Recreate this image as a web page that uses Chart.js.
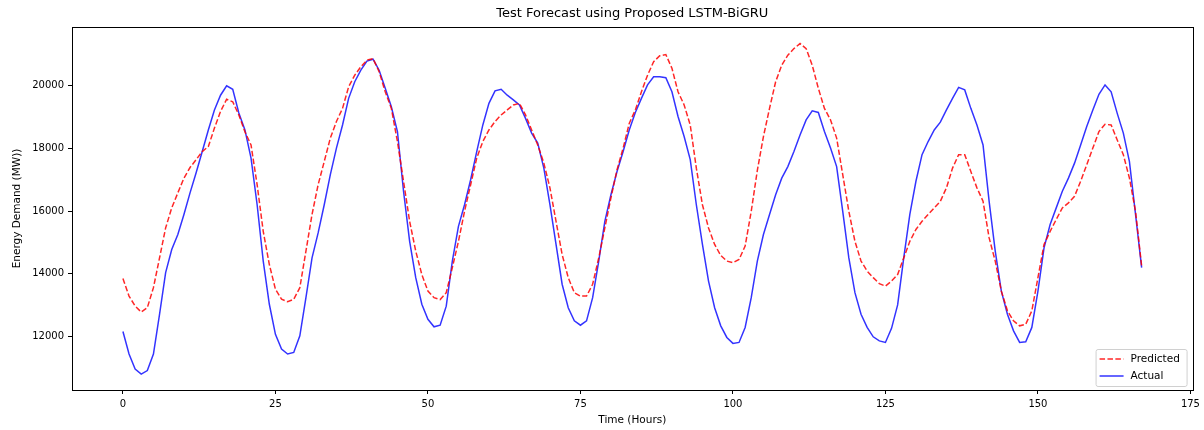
<!DOCTYPE html>
<html>
<head>
<meta charset="utf-8">
<script src="https://cdn.jsdelivr.net/npm/chart.js@4.4.1/dist/chart.umd.min.js"></script>
<style>
  body { margin: 0; background: #fff; }
  canvas { display: block; }
</style>
</head>
<body>
<canvas id="chart" width="1204" height="430"></canvas>
<script>
const hours = Array.from({ length: 168 }, (_, i) => i);

const actual = [
  12150, 11430, 10950, 10790, 10900, 11430, 12700, 14030, 14770, 15250,
  15890, 16580, 17220, 17900, 18590, 19230, 19700, 20000, 19890, 19130,
  18590, 17690, 16200, 14400, 13020, 12060, 11590, 11430, 11480, 12010,
  13230, 14500, 15300, 16200, 17160, 18010, 18750, 19600, 20130, 20500,
  20790, 20850, 20500, 19920, 19330, 18540, 16630, 15030, 13870, 13020,
  12540, 12300, 12350, 12960, 14400, 15510, 16200, 17000, 17900, 18750,
  19440, 19840, 19890, 19700, 19550, 19390, 18960, 18490, 18170, 17370,
  16200, 14930, 13660, 12910, 12490, 12350, 12490, 13230, 14400, 15670,
  16520, 17260, 17900, 18590, 19150, 19600, 20030, 20290, 20290, 20260,
  19810, 19020, 18380, 17640, 16200, 14930, 13760, 12910, 12330, 11960,
  11770, 11800, 12280, 13230, 14400, 15250, 15890, 16520, 17050, 17420,
  17900, 18430, 18910, 19200, 19150, 18540, 18010, 17420, 15990, 14500,
  13390, 12700, 12280, 11980, 11850, 11800, 12250, 13000, 14500, 15890,
  16950, 17800, 18220, 18590, 18840, 19230, 19600, 19950, 19870, 19280,
  18750, 18110, 16310, 14720, 13440, 12700, 12170, 11800, 11820, 12280,
  13440, 14820, 15570, 16100, 16630, 17050, 17530, 18110, 18700, 19230,
  19730, 20030, 19810, 19120, 18490, 17580, 15890, 14190
];

const predicted = [
  13840, 13280, 12960, 12770, 12910, 13550, 14500, 15460, 16100, 16580,
  17050, 17390, 17640, 17900, 18060, 18650, 19180, 19570, 19490, 19070,
  18530, 18110, 16840, 15350, 14290, 13500, 13180, 13100, 13180, 13550,
  14720, 15890, 16840, 17580, 18330, 18860, 19280, 19970, 20340, 20610,
  20820, 20870, 20450, 19810, 19280, 18220, 16950, 15670, 14720, 13970,
  13440, 13230, 13170, 13390, 14190, 15030, 15990, 16840, 17690, 18220,
  18590, 18860, 19070, 19230, 19390, 19440, 19070, 18590, 18110, 17530,
  16740, 15670, 14610, 13870, 13390, 13280, 13280, 13660, 14500, 15460,
  16420, 17320, 18010, 18800, 19230, 19810, 20340, 20770, 20960, 21000,
  20560, 19810, 19390, 18750, 17370, 16200, 15460, 14930, 14580, 14400,
  14350, 14450, 14880, 15990, 17300, 18380, 19280, 20130, 20660, 20980,
  21190, 21350, 21190, 20660, 19920, 19280, 18910, 18330, 17160, 15990,
  15030, 14400, 14080, 13870, 13680, 13600, 13760, 13970, 14500, 15030,
  15410, 15670, 15890, 16100, 16310, 16740, 17370, 17800, 17800, 17260,
  16740, 16310, 15140, 14400, 13440, 12810, 12490, 12330, 12380, 12810,
  13870, 14930, 15350, 15730, 16100, 16260, 16470, 16950, 17480, 18010,
  18540, 18770, 18750, 18270, 17800, 17050, 15990, 14240
];

const xTicks = [0, 25, 50, 75, 100, 125, 150, 175];
const yTicks = [12000, 14000, 16000, 18000, 20000];
const chartTitle = 'Test Forecast using Proposed LSTM-BiGRU';

const FONT = 'DejaVu Sans';

// matplotlib-style box round the plot area, title centred over the axes
const frame = {
  id: 'frame',
  afterDatasetsDraw(chart) {
    const { ctx, chartArea: a } = chart;
    ctx.save();
    ctx.strokeStyle = '#000';
    ctx.lineWidth = 1;
    ctx.strokeRect(Math.round(a.left) + 0.5, Math.round(a.top) + 0.5,
      Math.round(a.right - a.left), Math.round(a.bottom - a.top));
    ctx.fillStyle = '#000';
    ctx.font = '13px "' + FONT + '"';
    ctx.textAlign = 'center';
    ctx.textBaseline = 'middle';
    ctx.fillText(chartTitle, (a.left + a.right) / 2, 14);
    ctx.restore();
  }
};

// legend in the lower right corner, inside the axes
const cornerLegend = {
  id: 'cornerLegend',
  afterDraw(chart) {
    const { ctx, chartArea: a } = chart;
    const sets = chart.data.datasets;
    const w = 91, h = 37;
    const x = a.right - w - 6, y = a.bottom - h - 4;
    ctx.save();
    ctx.fillStyle = 'rgba(255,255,255,0.8)';
    ctx.strokeStyle = '#d0d0d0';
    ctx.lineWidth = 1;
    ctx.beginPath();
    ctx.roundRect(x + 0.5, y + 0.5, w, h, 2);
    ctx.fill();
    ctx.stroke();
    ctx.font = '10.5px "' + FONT + '"';
    ctx.textBaseline = 'middle';
    sets.forEach((ds, i) => {
      const ly = y + 10 + i * 17;
      ctx.strokeStyle = ds.borderColor;
      ctx.lineWidth = ds.borderWidth;
      ctx.setLineDash(ds.borderDash || []);
      ctx.beginPath();
      ctx.moveTo(x + 4, ly);
      ctx.lineTo(x + 28, ly);
      ctx.stroke();
      ctx.setLineDash([]);
      ctx.fillStyle = '#000';
      ctx.fillText(ds.label, x + 35, ly);
    });
    ctx.restore();
  }
};

new Chart(document.getElementById('chart'), {
  type: 'line',
  data: {
    labels: hours,
    datasets: [
      {
        label: 'Predicted',
        data: predicted,
        borderColor: 'rgba(255,0,0,0.85)',
        borderWidth: 1.5,
        borderDash: [5.5, 2.4],
        pointRadius: 0,
        tension: 0,
        fill: false
      },
      {
        label: 'Actual',
        data: actual,
        borderColor: 'rgba(0,0,255,0.8)',
        borderWidth: 1.5,
        pointRadius: 0,
        tension: 0,
        fill: false
      }
    ]
  },
  options: {
    responsive: false,
    animation: false,
    devicePixelRatio: 1,
    layout: { padding: { left: 0, right: 10, top: 27, bottom: 0 } },
    plugins: {
      legend: { display: false },
      tooltip: { enabled: false },
      title: { display: false }
    },
    scales: {
      x: {
        type: 'linear',
        min: -8.35,
        max: 175.35,
        afterBuildTicks: s => { s.ticks = xTicks.map(v => ({ value: v })); },
        afterFit: s => { s.height = 40; },
        grid: { drawOnChartArea: false, drawTicks: true, tickLength: 4, color: '#000' },
        border: { display: true, color: '#000' },
        ticks: {
          color: '#000',
          padding: 4,
          maxRotation: 0,
          font: { family: FONT, size: 10 }
        },
        title: {
          display: true,
          text: 'Time (Hours)',
          color: '#000',
          font: { family: FONT, size: 10.5 },
          padding: { top: 0, bottom: 3 }
        }
      },
      y: {
        min: 10280,
        max: 21880,
        afterBuildTicks: s => { s.ticks = yTicks.map(v => ({ value: v })); },
        afterFit: s => { s.width = 72; },
        grid: { drawOnChartArea: false, drawTicks: true, tickLength: 4, color: '#000' },
        border: { display: true, color: '#000' },
        ticks: {
          color: '#000',
          padding: 4,
          font: { family: FONT, size: 10 },
          callback: v => String(v)
        },
        title: {
          display: true,
          text: 'Energy Demand (MW))',
          color: '#000',
          font: { family: FONT, size: 10.5 },
          padding: { top: 11, bottom: 0 }
        }
      }
    }
  },
  plugins: [frame, cornerLegend]
});
</script>
</body>
</html>
